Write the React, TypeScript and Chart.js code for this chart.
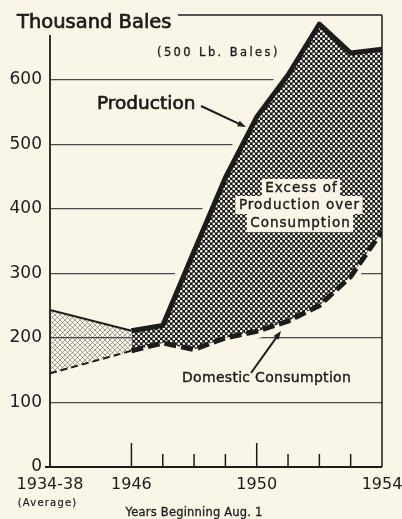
import { useEffect, useRef } from "react";
import { Chart, registerables } from "chart.js";

Chart.register(...registerables);

// ---- data ----
const PERIODS = ["1934-38", "1946", "1947", "1948", "1949", "1950", "1951", "1952", "1953", "1954"];
// nominal x value at which the 1934-38 average is plotted on the year axis
const PERIOD_X = [1943.4, 1946, 1947, 1948, 1949, 1950, 1951, 1952, 1953, 1954];
const PRODUCTION = [243, 211, 219, 334, 448, 542, 607, 686, 641, 647];
const CONSUMPTION = [145, 180, 192, 182, 200, 210, 226, 250, 295, 365];
const X_LABEL_VALUES = [1943.4, 1946, 1950, 1954];
const MAJOR_TICK_YEARS = [1946, 1950];
const MINOR_TICK_YEARS = [1947, 1948, 1949, 1951, 1952, 1953];
const Y_MAX = 700;
const Y_STEP = 100;

const BG = "#f9f5e7";
const INK = "#1c1c1c";
const FONT = "'DejaVu Sans', sans-serif";

function pts(values: number[], from: number, to: number) {
  const out: { x: number; y: number }[] = [];
  for (let i = from; i <= to; i++) out.push({ x: PERIOD_X[i], y: values[i] });
  return out;
}

function makeDarkPattern(ctx: CanvasRenderingContext2D) {
  const c = document.createElement("canvas");
  c.width = 5;
  c.height = 5;
  const p = c.getContext("2d")!;
  p.fillStyle = "#161616";
  p.fillRect(0, 0, 5, 5);
  p.fillStyle = "#fbf8ee";
  for (const [cx, cy] of [[1.25, 1.25], [3.75, 3.75]]) {
    p.beginPath();
    p.arc(cx, cy, 1.3, 0, Math.PI * 2);
    p.fill();
  }
  return ctx.createPattern(c, "repeat")!;
}

function makeLightPattern(ctx: CanvasRenderingContext2D) {
  const c = document.createElement("canvas");
  c.width = 5;
  c.height = 5;
  const p = c.getContext("2d")!;
  p.strokeStyle = "rgba(70,70,70,0.6)";
  p.lineWidth = 0.8;
  p.beginPath();
  p.moveTo(0, 0);
  p.lineTo(5, 5);
  p.moveTo(5, 0);
  p.lineTo(0, 5);
  p.stroke();
  return ctx.createPattern(c, "repeat")!;
}

function arrow(ctx: CanvasRenderingContext2D, x1: number, y1: number, x2: number, y2: number) {
  const ang = Math.atan2(y2 - y1, x2 - x1);
  const hl = 9;
  ctx.beginPath();
  ctx.moveTo(x1, y1);
  ctx.lineTo(x2 - Math.cos(ang) * hl * 0.7, y2 - Math.sin(ang) * hl * 0.7);
  ctx.stroke();
  ctx.beginPath();
  ctx.moveTo(x2, y2);
  ctx.lineTo(x2 - hl * Math.cos(ang - 0.35), y2 - hl * Math.sin(ang - 0.35));
  ctx.lineTo(x2 - hl * Math.cos(ang + 0.35), y2 - hl * Math.sin(ang + 0.35));
  ctx.closePath();
  ctx.fill();
}

function text(
  ctx: CanvasRenderingContext2D,
  s: string,
  x: number,
  y: number,
  size: number,
  align: CanvasTextAlign,
  spacing = 0,
  bold = 0.5
) {
  ctx.font = `${size}px ${FONT}`;
  (ctx as any).letterSpacing = `${spacing}px`;
  ctx.textAlign = align;
  ctx.textBaseline = "middle";
  const dx = align === "center" ? spacing / 2 : 0;
  ctx.fillText(s, x + dx, y);
  if (bold > 0) {
    ctx.lineWidth = bold;
    ctx.strokeText(s, x + dx, y);
  }
  (ctx as any).letterSpacing = "0px";
}

const decoPlugin = {
  id: "deco",
  beforeDraw(chart: any) {
    const ctx = chart.ctx as CanvasRenderingContext2D;
    ctx.save();
    ctx.fillStyle = BG;
    ctx.fillRect(0, 0, chart.width, chart.height);
    ctx.restore();
  },
  afterDatasetsDraw(chart: any) {
    const ctx = chart.ctx as CanvasRenderingContext2D;
    const a = chart.chartArea;
    const xs = chart.scales.x;
    ctx.save();
    ctx.strokeStyle = INK;
    ctx.fillStyle = INK;
    ctx.lineCap = "butt";

    const seg = (x1: number, y1: number, x2: number, y2: number, w: number) => {
      ctx.lineWidth = w;
      ctx.beginPath();
      ctx.moveTo(x1, y1);
      ctx.lineTo(x2, y2);
      ctx.stroke();
    };
    // frame
    seg(a.left, 35, a.left, a.bottom, 1.8);
    seg(a.right, a.top, a.right, a.bottom, 1.5);
    seg(178, a.top, a.right, a.top, 1.4);
    seg(a.left - 5, a.bottom, a.right, a.bottom, 2.2);
    // inward tick marks
    for (const yr of MAJOR_TICK_YEARS) {
      const px = xs.getPixelForValue(yr);
      seg(px, a.bottom, px, a.bottom - 24, 1.5);
    }
    for (const yr of MINOR_TICK_YEARS) {
      const px = xs.getPixelForValue(yr);
      seg(px, a.bottom, px, a.bottom - 13, 1.5);
    }

    // titles
    text(ctx, "Thousand Bales", 17, 23, 19.5, "left", 0, 0.7);
    text(ctx, "(500 Lb. Bales)", 157, 53, 11.5, "left", 2.4, 0.3);
    text(ctx, "Production", 97, 104, 18.5, "left", 0, 0.7);

    // Excess label with cream background
    const lines: [string, number, number][] = [
      ["Excess of", 301, 188],
      ["Production over", 299, 205],
      ["Consumption", 300, 223],
    ];
    ctx.font = `13.5px ${FONT}`;
    (ctx as any).letterSpacing = "1px";
    ctx.fillStyle = BG;
    for (const [s, cx, cy] of lines) {
      const w = ctx.measureText(s).width;
      ctx.fillRect(cx - w / 2 - 3, cy - 9, w + 6, 18);
    }
    (ctx as any).letterSpacing = "0px";
    ctx.fillStyle = INK;
    for (const [s, cx, cy] of lines) text(ctx, s, cx, cy, 13.5, "center", 1, 0.4);

    text(ctx, "Domestic Consumption", 182, 378, 14, "left", 0.3, 0.4);
    text(ctx, "(Average)", 47, 503, 10, "center", 1.2, 0.2);
    text(ctx, "Years Beginning Aug. 1", 194, 513, 11.5, "center", 0.2, 0.3);

    // arrows
    ctx.lineWidth = 2;
    arrow(ctx, 201, 106, 246, 127);
    arrow(ctx, 251, 373, 281, 331);
    ctx.restore();
  },
};

export default function App() {
  const ref = useRef<HTMLCanvasElement>(null);

  useEffect(() => {
    const canvas = ref.current!;
    const ctx = canvas.getContext("2d")!;
    const dark = makeDarkPattern(ctx);
    const light = makeLightPattern(ctx);
    const last = PERIODS.length - 1;

    const chart = new Chart(ctx, {
      type: "line",
      data: {
        datasets: [
          {
            label: "prod halo",
            data: pts(PRODUCTION, 1, last),
            borderColor: BG,
            borderWidth: 18,
            pointRadius: 0,
            fill: false,
            order: 7,
          },
          {
            label: "cons halo",
            data: pts(CONSUMPTION, 1, last),
            borderColor: BG,
            borderWidth: 14,
            pointRadius: 0,
            fill: false,
            order: 6,
          },
          {
            label: "Production 1934-38",
            data: pts(PRODUCTION, 0, 1),
            borderColor: INK,
            borderWidth: 2,
            pointRadius: 0,
            backgroundColor: light,
            fill: 3,
            order: 5,
          },
          {
            label: "Consumption 1934-38",
            data: pts(CONSUMPTION, 0, 1),
            borderColor: INK,
            borderWidth: 2,
            borderDash: [7, 4],
            pointRadius: 0,
            fill: false,
            order: 4,
          },
          {
            label: "Production",
            data: pts(PRODUCTION, 1, last),
            borderColor: INK,
            borderWidth: 5,
            borderJoinStyle: "round",
            pointRadius: 0,
            backgroundColor: dark,
            fill: 5,
            order: 3,
          },
          {
            label: "Domestic Consumption",
            data: pts(CONSUMPTION, 1, last),
            borderColor: INK,
            borderWidth: 5,
            borderDash: [12, 5],
            pointRadius: 0,
            fill: false,
            order: 2,
          },
        ],
      },
      options: {
        responsive: false,
        animation: false,
        events: [],
        layout: { padding: { top: 15, right: 20, left: 0, bottom: 0 } },
        plugins: { legend: { display: false }, tooltip: { enabled: false } },
        scales: {
          x: {
            type: "linear",
            min: PERIOD_X[0],
            max: PERIOD_X[last],
            afterBuildTicks: (s: any) => {
              s.ticks = X_LABEL_VALUES.map((v) => ({ value: v }));
            },
            afterFit: (s: any) => {
              s.height = 52;
              s.paddingLeft = 0;
              s.paddingRight = 0;
            },
            grid: { display: false, drawTicks: false },
            border: { display: false },
            ticks: {
              autoSkip: false,
              maxRotation: 0,
              padding: 8,
              color: INK,
              font: { family: FONT, size: 16 },
              callback: (v: any) => {
                const i = PERIOD_X.indexOf(Number(v));
                return i >= 0 ? PERIODS[i] : "";
              },
            },
          },
          y: {
            min: 0,
            max: Y_MAX,
            afterFit: (s: any) => {
              s.width = 50;
              s.paddingTop = 0;
              s.paddingBottom = 0;
            },
            border: { display: false },
            grid: {
              drawTicks: false,
              lineWidth: 1.2,
              color: (c: any) => (c.tick && c.tick.value === 0 ? "rgba(0,0,0,0)" : "#4a4a4a"),
            },
            ticks: {
              stepSize: Y_STEP,
              padding: 8,
              color: INK,
              font: { family: FONT, size: 17 },
              callback: (v: any) => (Number(v) >= Y_MAX ? null : String(v)),
            },
          },
        },
      },
      plugins: [decoPlugin],
    } as any);

    return () => chart.destroy();
  }, []);

  return (
    <div style={{ position: "fixed", left: 0, top: 0, width: 402, height: 519, background: BG }}>
      <canvas ref={ref} width={402} height={519} style={{ display: "block" }} />
    </div>
  );
}
